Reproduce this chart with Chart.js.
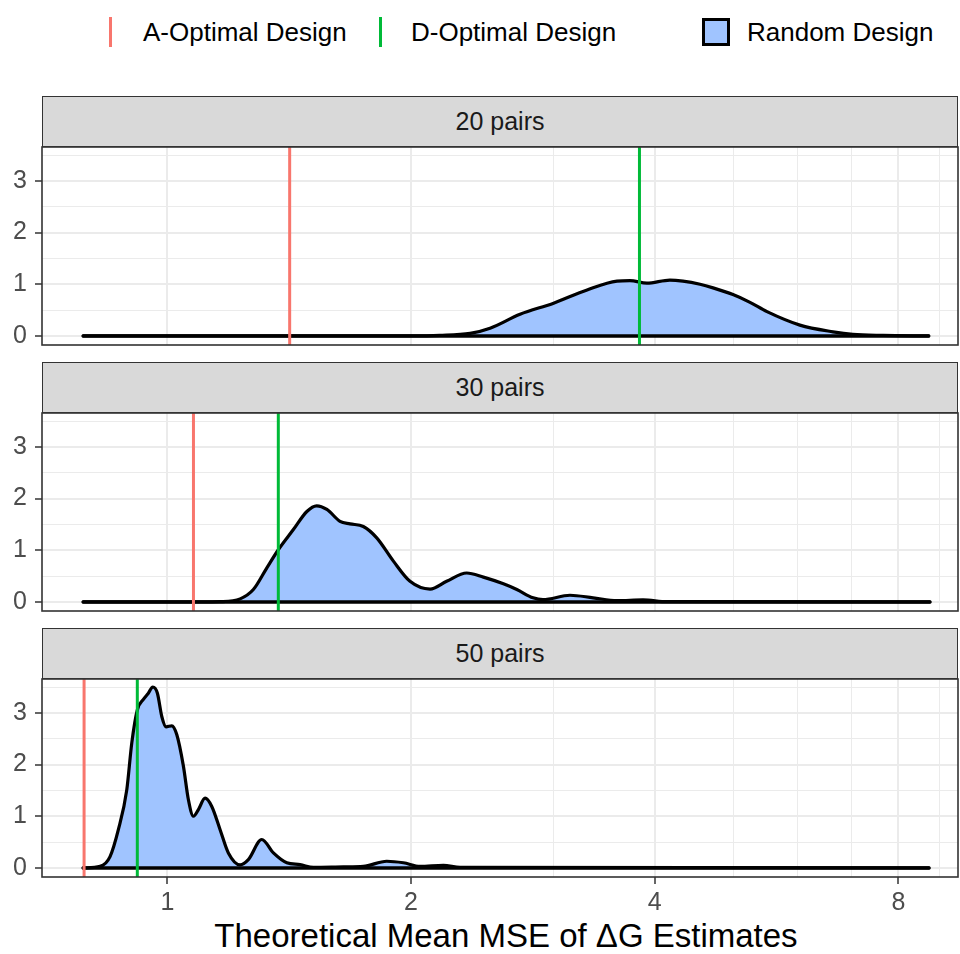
<!DOCTYPE html>
<html>
<head>
<meta charset="utf-8">
<script src="https://cdn.jsdelivr.net/npm/chart.js@4.4.1/dist/chart.umd.min.js"></script>
<style>
html,body{margin:0;padding:0;background:#fff;}
#root{position:relative;width:960px;height:954px;overflow:hidden;font-family:"Liberation Sans",Arial,Helvetica,sans-serif;}
.strip{position:absolute;left:42px;width:916px;height:51px;box-sizing:border-box;background:#d9d9d9;border:1.5px solid #333;display:flex;align-items:center;justify-content:center;font-size:25px;color:#1a1a1a;}
canvas{position:absolute;left:0;}
.leg{position:absolute;font-size:26px;line-height:30px;color:#000;white-space:nowrap;}
.key{position:absolute;}
#xtitle{position:absolute;left:0;width:1012px;text-align:center;font-size:33px;line-height:40px;color:#000;white-space:nowrap;}
</style>
</head>
<body>
<div id="root">
  <div class="key" style="left:109px;top:17px;width:3px;height:30px;background:#F8766D;"></div>
  <div class="leg" style="left:143px;top:17px;">A-Optimal Design</div>
  <div class="key" style="left:379px;top:17px;width:3px;height:30px;background:#00BA38;"></div>
  <div class="leg" style="left:411px;top:17px;">D-Optimal Design</div>
  <div class="key" style="left:702px;top:18px;width:28px;height:28px;box-sizing:border-box;border:3px solid #000;background:#A0C4FF;"></div>
  <div class="leg" style="left:747px;top:17px;">Random Design</div>
  <div id="xtitle" style="top:916px;">Theoretical Mean MSE of ΔG Estimates</div>
</div>
<script>
// ---------------- data ----------------
const panelLabels = ['20 pairs', '30 pairs', '50 pairs'];
const aOptimal = [1.416, 1.077, 0.789];
const dOptimal = [3.83, 1.371, 0.918];
const xTickLabels = [1, 2, 4, 8];
const xMinorTicks = [3, 5, 6, 7, 9];
const yTickLabels = [0, 1, 2, 3];
const yMinorTicks = [0.5, 1.5, 2.5, 3.5];

const mse20 = [0.787, 2.0, 2.17, 2.366, 2.504, 2.727, 2.995, 3.30, 3.593, 3.728, 3.912, 4.176, 4.334, 4.55, 4.722, 4.997, 5.245, 5.505, 6.045, 6.642, 7.028, 7.655, 8.72];
const dens20 = [0, 0, 0.01, 0.05, 0.15, 0.42, 0.63, 0.89, 1.06, 1.07, 1.02, 1.08, 1.06, 1.00, 0.93, 0.80, 0.65, 0.47, 0.21, 0.08, 0.03, 0.01, 0];

const mse30 = [0.787, 1.10, 1.162, 1.230, 1.277, 1.327, 1.371, 1.431, 1.487, 1.529, 1.574, 1.634, 1.681, 1.746, 1.814, 1.902, 1.994, 2.111, 2.213, 2.343, 2.457, 2.601, 2.702, 2.830, 2.911, 3.143, 3.357, 3.593, 3.869, 4.142, 8.75];
const dens30 = [0, 0, 0.005, 0.06, 0.24, 0.66, 1.01, 1.40, 1.75, 1.86, 1.79, 1.56, 1.51, 1.46, 1.24, 0.79, 0.40, 0.25, 0.40, 0.56, 0.48, 0.35, 0.24, 0.08, 0.045, 0.13, 0.08, 0.025, 0.04, 0.005, 0];

const mse50 = [0.787, 0.8258, 0.8495, 0.8698, 0.8909, 0.9037, 0.9182, 0.9340, 0.9473, 0.9593, 0.9720, 0.9842, 0.9963, 1.0126, 1.027, 1.0466, 1.0616, 1.0768, 1.0922, 1.1132, 1.1346, 1.1618, 1.1894, 1.2297, 1.2590, 1.3080, 1.3520, 1.4045, 1.4585, 1.5148, 1.65, 1.7462, 1.8663, 1.9566, 2.0518, 2.1925, 2.2995, 8.727];
const dens50 = [0, 0.03, 0.22, 0.74, 1.51, 2.42, 3.06, 3.26, 3.38, 3.50, 3.38, 2.93, 2.73, 2.75, 2.58, 1.97, 1.32, 1.00, 1.13, 1.35, 1.19, 0.74, 0.29, 0.06, 0.16, 0.55, 0.29, 0.10, 0.065, 0.01, 0.02, 0.03, 0.13, 0.10, 0.03, 0.05, 0.01, 0];

const mseSeries = [mse20, mse30, mse50];
const densSeries = [dens20, dens30, dens50];

// ---------------- layout / style ----------------
const FONT = '"Liberation Sans", Arial, Helvetica, sans-serif';
const PLOT_TOP = [147, 413, 679];
const STRIP_TOP = [96, 362, 628];
const PLOT_H = 198;
const X_MIN = 0.700, X_MAX = 9.478;
const Y_MIN = -0.175, Y_MAX = 3.655;

const borderPlugin = {
  id: 'panelBorder',
  afterDraw(chart) {
    const {ctx, chartArea: a} = chart;
    ctx.save();
    ctx.strokeStyle = '#333333';
    ctx.lineWidth = 1.6;
    ctx.strokeRect(a.left, a.top, a.right - a.left, a.bottom - a.top);
    ctx.restore();
  }
};

const root = document.getElementById('root');

panelLabels.forEach((label, i) => {
  const last = i === panelLabels.length - 1;
  const strip = document.createElement('div');
  strip.className = 'strip';
  strip.style.top = STRIP_TOP[i] + 'px';
  strip.textContent = label;
  root.appendChild(strip);

  const bottomExtra = last ? 50 : 10;
  const canvas = document.createElement('canvas');
  canvas.width = 960;
  canvas.height = 10 + PLOT_H + bottomExtra;
  canvas.style.top = (PLOT_TOP[i] - 10) + 'px';
  canvas.style.width = '960px';
  canvas.style.height = canvas.height + 'px';
  root.appendChild(canvas);

  const mse = mseSeries[i], dens = densSeries[i];
  const vline = (v, color) => ({
    data: [{x: v, y: Y_MIN}, {x: v, y: Y_MAX}],
    borderColor: color, borderWidth: 3, pointRadius: 0, fill: false, order: 0
  });

  new Chart(canvas, {
    type: 'line',
    data: {
      datasets: [
        vline(aOptimal[i], '#F8766D'),
        vline(dOptimal[i], '#00BA38'),
        {
          data: [{x: mse[0], y: 0}, {x: mse[mse.length - 1], y: 0}],
          borderColor: '#000', borderWidth: 3.4, pointRadius: 0, fill: false,
          borderCapStyle: 'round', order: 1
        },
        {
          data: mse.map((x, j) => ({x: x, y: dens[j]})),
          borderColor: '#000', borderWidth: 3.2, pointRadius: 0,
          fill: 'origin', backgroundColor: '#A0C4FF',
          tension: 0.4, cubicInterpolationMode: 'monotone',
          borderCapStyle: 'round', borderJoinStyle: 'round', order: 2
        }
      ]
    },
    options: {
      responsive: false, animation: false, events: [],
      layout: {padding: {top: 10, left: 0, right: 2, bottom: last ? 0 : 10}},
      plugins: {legend: {display: false}, tooltip: {enabled: false}},
      scales: {
        x: {
          type: 'logarithmic', min: X_MIN, max: X_MAX, bounds: 'data',
          afterBuildTicks: s => {
            s.ticks = xTickLabels.concat(xMinorTicks).sort((a, b) => a - b).map(v => ({value: v}));
          },
          afterFit: s => { s.height = last ? 50 : 0; s.paddingLeft = 0; s.paddingRight = 0; },
          border: {display: false},
          grid: {
            color: '#ebebeb',
            lineWidth: c => (c.tick && xTickLabels.includes(c.tick.value)) ? 2 : 1,
            drawTicks: last, tickLength: 7, tickWidth: 1.5,
            tickColor: c => (c.tick && xTickLabels.includes(c.tick.value)) ? '#333333' : 'rgba(0,0,0,0)'
          },
          ticks: {
            display: last, autoSkip: false, maxRotation: 0, minRotation: 0, padding: 4,
            color: '#4d4d4d', font: {family: FONT, size: 25},
            callback: v => xTickLabels.includes(v) ? String(v) : ''
          }
        },
        y: {
          type: 'linear', min: Y_MIN, max: Y_MAX,
          afterBuildTicks: s => {
            s.ticks = yTickLabels.concat(yMinorTicks).sort((a, b) => a - b).map(v => ({value: v}));
          },
          afterFit: s => { s.width = 42; s.paddingTop = 0; s.paddingBottom = 0; },
          border: {display: false},
          grid: {
            color: '#ebebeb',
            lineWidth: c => (c.tick && yTickLabels.includes(c.tick.value)) ? 2 : 1,
            drawTicks: true, tickLength: 7, tickWidth: 1.5,
            tickColor: c => (c.tick && yTickLabels.includes(c.tick.value)) ? '#333333' : 'rgba(0,0,0,0)'
          },
          ticks: {
            autoSkip: false, padding: 8, color: '#4d4d4d', font: {family: FONT, size: 25},
            callback: v => yTickLabels.includes(v) ? String(v) : ''
          }
        }
      }
    },
    plugins: [borderPlugin]
  });
});
</script>
</body>
</html>
